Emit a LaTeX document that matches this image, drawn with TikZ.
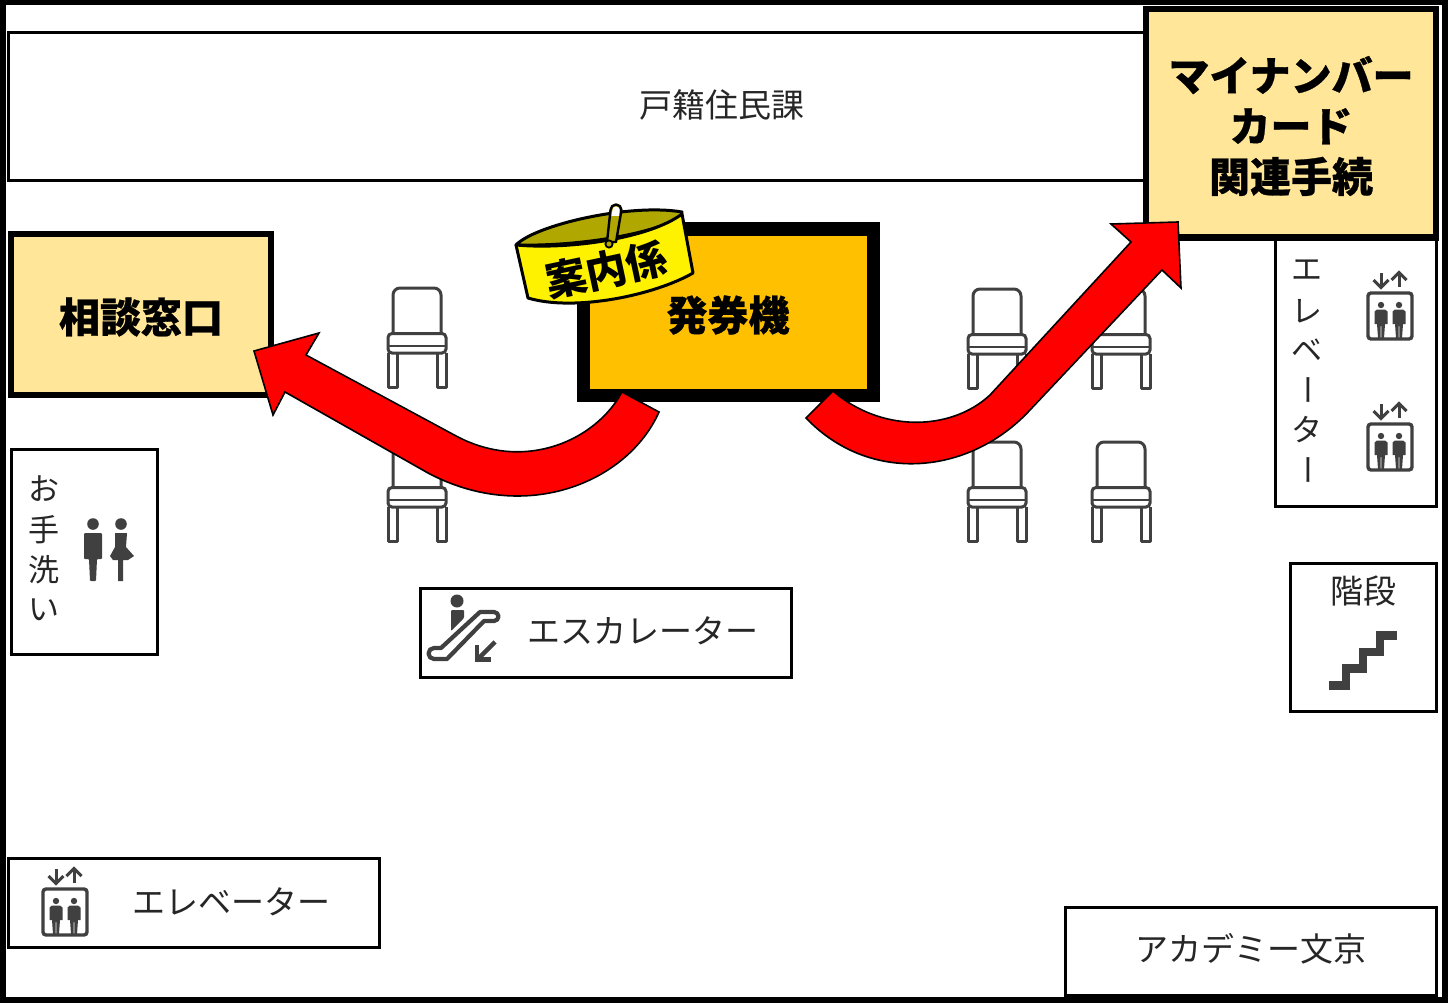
\documentclass[tikz,border=0pt]{standalone}
\usepackage{fontspec}
\setmainfont{Noto Sans CJK JP}[BoldFeatures={FakeBold=0.7}]
\newfontfamily\bandf{Noto Sans CJK JP}
\definecolor{pale}{HTML}{FFE699}
\definecolor{amber}{HTML}{FFC000}
\definecolor{ico}{HTML}{404040}
\definecolor{bandin}{HTML}{B0A800}
\definecolor{bandout}{HTML}{FFF200}
\tikzset{
 every node/.style={outer sep=0pt},
 room/.style={draw=black,line width=3pt,fill=white},
 strong/.style={draw=black,line width=6.5pt,fill=pale},
 lab/.style={font=\fontsize{33}{36}\selectfont,text=black!85,inner sep=0pt},
 vlab/.style={font=\fontsize{31}{34}\selectfont,text=black!85,inner sep=0pt},
 big/.style={font=\fontsize{41}{50.5}\selectfont\bfseries,inner sep=0pt,align=center},
 flow/.style={draw=black,line width=1.6pt,fill=red,line join=miter},
 icoline/.style={draw=ico,line width=3pt,fill=none},
 chairpic/.pic={
  \draw[icoline,rounded corners=7pt] (-24,46)--(-24,1)--(24,1)--(24,46);
  \draw[icoline,rounded corners=4pt,fill=white] (-29,66)--(-29,46.5)--(29,46.5)--(29,66)--cycle;
  \draw[icoline,line width=2.4pt] (-29,59)--(29,59);
  \draw[icoline,line join=round] (-29,66)--(-29,100.5)--(-20,100.5)--(-20,66);
  \draw[icoline,line join=round] (29,66)--(29,100.5)--(20,100.5)--(20,66);
 },
 liftpic/.pic={
  \draw[icoline,line width=3.4pt,rounded corners=3pt] (-22,1)--(22,1)--(22,47)--(-22,47)--cycle;
  \foreach \s in {-9,9}{
   \fill[ico] (\s,13) circle (3.2);
   \fill[ico] (\s-4,17.5)--(\s+4,17.5)--(\s+6.5,19.5)--(\s+6.5,32)--(\s+4,32)--(\s+3,46)--(\s+.4,46)--(\s+.4,34)--(\s-.4,34)--(\s-.4,46)--(\s-3,46)--(\s-4,32)--(\s-6.5,32)--(\s-6.5,19.5)--cycle;
  }
  \draw[ico,line width=3pt] (-9,-19)--(-9,-5) (9,-5)--(9,-19);
  \draw[ico,line width=3pt] (-16.5,-12)--(-9,-4.5)--(-1.5,-12);
  \draw[ico,line width=3pt] (1.5,-12)--(9,-19.5)--(16.5,-12);
 }
}
\begin{document}
\begin{tikzpicture}[x=1pt,y=-1pt]
\useasboundingbox (0,0) rectangle (1448,1003);
\fill[white] (0,0) rectangle (1448,1003);
\draw[black,line width=6pt] (3,2.5) rectangle (1445,1000);

% rooms
\node[room,minimum width=1138pt,minimum height=148.5pt,anchor=north west] (koseki) at (8.5,32.5) {};
\node[lab] (kosekit) at (722,105) {戸籍住民課};

% chairs
\pic at (417,287) {chairpic};
\pic at (417,441) {chairpic};
\pic at (997,288) {chairpic};
\pic at (1121,288) {chairpic};
\pic at (997,441) {chairpic};
\pic at (1121,441) {chairpic};

% right elevator
\node[room,minimum width=161pt,minimum height=268pt,anchor=north west] (liftr) at (1275.5,238) {};
\node[vlab] (e1) at (1307,270) {エ};
\node[vlab] (e2) at (1307,311) {レ};
\node[vlab] (e3) at (1307,350) {ベ};
\node[vlab,rotate=-90] (e4) at (1303,390) {ー};
\node[vlab] (e5) at (1307,430) {タ};
\node[vlab,rotate=-90] (e6) at (1303,470) {ー};
\pic at (1390,292) {liftpic};
\pic at (1390,423) {liftpic};

\node[strong,minimum width=290pt,minimum height=228.5pt,anchor=north west] (mynum) at (1146,9) {};
\node[big] (mynumt) at (1291,126) {マイナンバー\\カード\\関連手続};
\node[strong,minimum width=260pt,minimum height=161pt,anchor=north west] (soudan) at (11,234) {};
\node[big] (soudant) at (141,317) {相談窓口};
\node[draw=black,line width=13pt,fill=amber,minimum width=290pt,minimum height=166.5pt,anchor=north west] (hakken) at (583.5,229) {};
\node[big] (hakkent) at (728,315) {発券機};

% toilet
\node[room,minimum width=146pt,minimum height=205pt,anchor=north west] (toilet) at (11.5,449) {};
\node[vlab] (t1) at (44,489) {お};
\node[vlab] (t2) at (44,530) {手};
\node[vlab] (t3) at (44,570) {洗};
\node[vlab] (t4) at (44,610) {い};
\fill[ico] (93,524) circle (5.8);
\fill[ico,rounded corners=1pt] (84,533)--(102,533)--(102,559)--(97,559)--(96,581)--(90,581)--(89,559)--(84,559)--cycle;
\fill[ico] (121,524) circle (5.8);
\fill[ico,line join=round] (115,533)--(127,533)--(126,547)--(134,556)--(128,560)--(123,560)--(123,581)--(118,581)--(118,560)--(113,560)--(110,556)--(115,547)--cycle;

% stairs
\node[room,minimum width=146pt,minimum height=148pt,anchor=north west] (stairs) at (1290.5,563) {};
\node[lab] (stairst) at (1363,591) {階段};
\fill[ico,draw=ico,line width=.8pt] (1329,681)--(1342,681)--(1342,664)--(1359,664)--(1359,648)--(1376,648)--(1376,631)--(1396,631)--(1396,639)--(1383,639)--(1383,655)--(1366,655)--(1366,672)--(1349,672)--(1349,689)--(1329,689)--cycle;

% escalator
\node[room,minimum width=371pt,minimum height=89.5pt,anchor=north west] (esc) at (420.5,588) {};
\node[lab] (esct) at (643,631) {エスカレーター};
\fill[ico] (457,601) circle (6.5);
\fill[ico,rounded corners=1pt] (451,610)--(464,610)--(464,618)--(451,631)--cycle;
\draw[ico,line width=4.2pt,line join=round] (480,612)--(494,612) arc (-90:90:4.5)--(484,621)--(447,659)--(434,659) arc (90:270:5.5) --(441,648)--cycle;
\draw[ico,line width=4.4pt] (495,642)--(478,659);
\draw[ico,line width=4.4pt] (477,645)--(477,659.5)--(491,659.5);

% bottom elevator
\node[room,minimum width=371pt,minimum height=89pt,anchor=north west] (liftb) at (8.5,858) {};
\node[lab] (liftbt) at (231,902) {エレベーター};
\pic at (65,888) {liftpic};

% academy
\node[room,minimum width=371pt,minimum height=88pt,anchor=north west] (acad) at (1065.5,907) {};
\node[lab] (acadt) at (1251,949) {アカデミー文京};

% flows
\draw[flow] (622,392) .. controls (596,440) and (526,472) .. (458,437)
  -- (306,355) -- (319,333) -- (254,351) -- (273,415) -- (285,392) -- (428,473)
  .. controls (526,525) and (628,482) .. (659,412) -- cycle;
\draw[flow] (833,391) .. controls (880,432) and (950,432) .. (990,395)
  -- (1131,242) -- (1111,224) -- (1178,222) -- (1181,288) -- (1162,270) -- (1030,410)
  .. controls (970,475) and (870,485) .. (806,418) -- cycle;

% armband
\draw[black,line width=3pt,fill=bandin,line join=round] (516,245) .. controls (535,225) and (630,203) .. (682,212)
  .. controls (684,225) and (600,247) .. (516,245) -- cycle;
\draw[black,line width=3pt,fill=bandout,line join=round] (516,245) .. controls (570,250) and (650,238) .. (682,214)
  -- (693,273) .. controls (655,295) and (575,312) .. (528,298) -- cycle;
\draw[black,line width=2.4pt,fill=bandin,line join=round] (610.5,210) arc (180:360:5.5) -- (616,242) -- (607,242) -- cycle;
\fill[white] (612.5,210) arc (180:360:3.5) -- (619,216) -- (611.5,216) -- cycle;
\draw[black,line width=1.8pt,fill=bandin] (609,244) circle (3.6);
\node[inner sep=0pt,rotate=12,font=\bandf\fontsize{41}{42}\selectfont\bfseries] (band) at (606,270) {案内係};
\end{tikzpicture}
\end{document}
